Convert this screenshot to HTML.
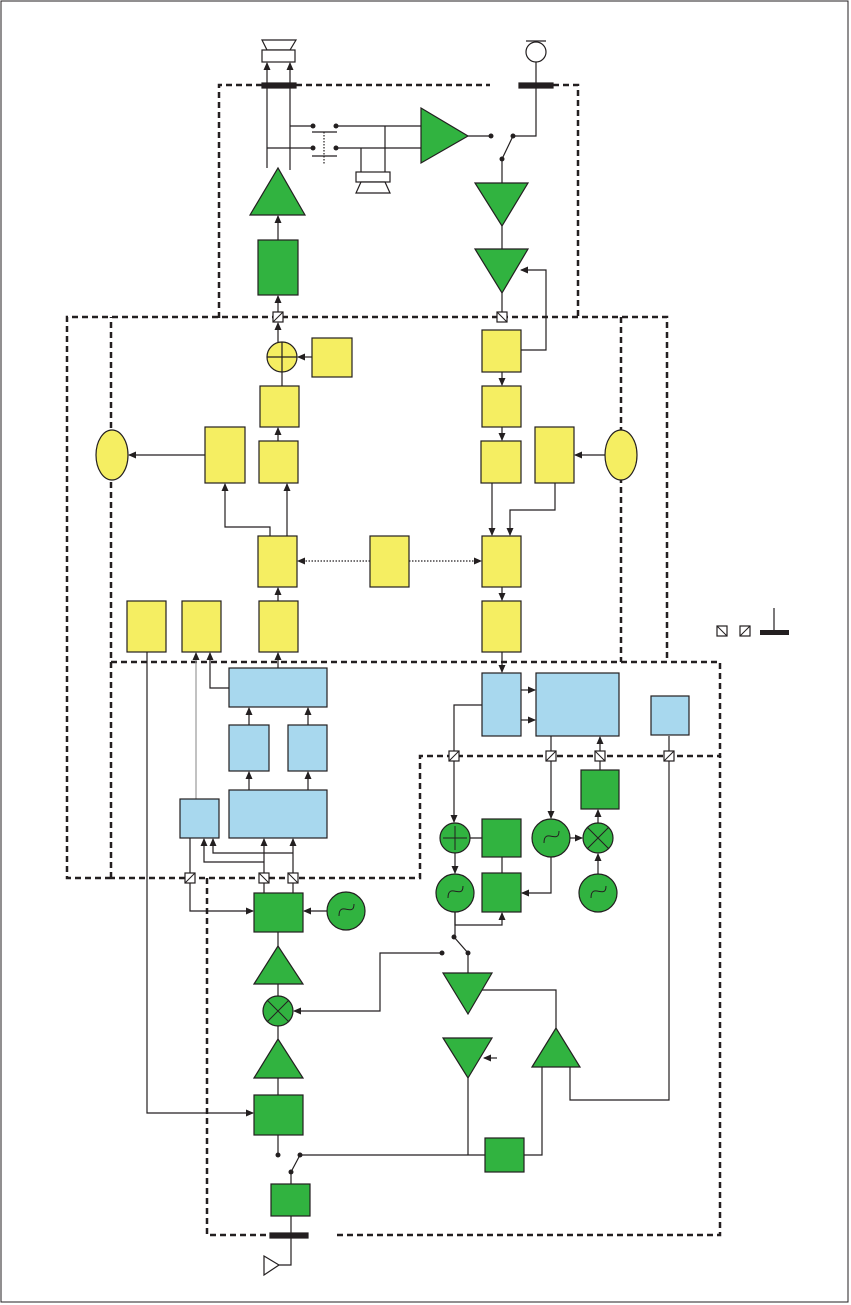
<!DOCTYPE html>
<html><head><meta charset="utf-8"><style>body{margin:0;background:#fff}svg{display:block}</style></head><body>
<svg width="851" height="1305" viewBox="0 0 851 1305" xmlns="http://www.w3.org/2000/svg">
<defs><marker id="a" markerWidth="8" markerHeight="8" refX="7" refY="4" orient="auto" markerUnits="userSpaceOnUse"><path d="M0,0.5 L8,4 L0,7.5 Z" fill="#231f20"/></marker></defs>
<rect x="1" y="1" width="847" height="1301" fill="#fff" stroke="#231f20" stroke-width="1"/>
<g fill="none" stroke="#231f20" stroke-width="2.5" stroke-dasharray="6,4">
<path d="M219,318 V85 H490"/><path d="M553,85 H578 V318"/>
<path d="M111,878 H67 V317 H667 V662"/>
<path d="M111,878 V317"/><path d="M621,317 V662"/>
<path d="M111,662 H720 V756 H420 V878 H111"/>
<path d="M207,878 V1235 H270"/><path d="M337,1235 H720 V756"/>
</g>
<g stroke="#231f20" stroke-width="1.2">
<path d="M262,40 H296 L290,50 H267 Z" fill="#fff"/><rect x="262" y="50" width="33" height="12" fill="#fff"/>
<rect x="262" y="83" width="34" height="5" fill="#231f20"/><rect x="519" y="83" width="34" height="5" fill="#231f20"/>
<rect x="270" y="1233" width="38" height="5" fill="#231f20"/>
<circle cx="536" cy="52" r="10" fill="#fff"/><line x1="526" y1="41" x2="546" y2="41"/>
<rect x="356" y="172" width="34" height="10" fill="#fff"/><path d="M361,182 H385 L390,193 H356 Z" fill="#fff"/>
<path d="M264,1256 L279,1265 L264,1275 Z" fill="#fff"/>
</g>
<g fill="none" stroke="#231f20" stroke-width="1.2">
<path d="M267,168 V63" marker-end="url(#a)"/><path d="M290,170 V63" marker-end="url(#a)"/>
<path d="M290,126 H313 M267,148 H313 M312,132 H337 M312,156 H337"/>
<path d="M324,132 V165" stroke-dasharray="1.5,1.5"/>
<path d="M336,126 H421 M336,148 H421 M385,126 V172 M361,148 V172"/>
<path d="M468,136 H491 M513,136 L502,159 M513,136 H536 V62 M502,159 V183 M502,226 V249 M502,293 V317"/>
<path d="M521,350 H546 V270 H521" marker-end="url(#a)"/>
<path d="M278,240 V216" marker-end="url(#a)"/><path d="M278,317 V296" marker-end="url(#a)"/>
<path d="M278,342 V323" marker-end="url(#a)"/><path d="M282,372 V386"/>
<path d="M312,357 H298" marker-end="url(#a)"/>
<path d="M278,441 V428" marker-end="url(#a)"/><path d="M205,455 H129" marker-end="url(#a)"/>
<path d="M287,536 V484" marker-end="url(#a)"/><path d="M270,536 V527 H225 V484" marker-end="url(#a)"/>
<path d="M278,601 V588" marker-end="url(#a)"/>
<path d="M370,561 H298" stroke-dasharray="1.5,1.5" marker-end="url(#a)"/>
<path d="M409,561 H481" stroke-dasharray="1.5,1.5" marker-end="url(#a)"/>
<path d="M502,372 V385" marker-end="url(#a)"/><path d="M502,427 V440" marker-end="url(#a)"/>
<path d="M492,483 V535" marker-end="url(#a)"/><path d="M555,483 V510 H510 V535" marker-end="url(#a)"/>
<path d="M605,455 H575" marker-end="url(#a)"/>
<path d="M502,587 V600" marker-end="url(#a)"/><path d="M502,652 V672" marker-end="url(#a)"/>
<path d="M278,668 V653" marker-end="url(#a)"/><path d="M229,688 H210 V653" marker-end="url(#a)"/>
<path d="M249,725 V708" marker-end="url(#a)"/><path d="M308,725 V708" marker-end="url(#a)"/>
<path d="M249,790 V772" marker-end="url(#a)"/><path d="M308,790 V772" marker-end="url(#a)"/>
<path d="M147,652 V1113 H253" marker-end="url(#a)"/>
<path d="M196,799 V653" stroke="#999" marker-end="url(#a)"/>
<path d="M190,838 V911 H253" marker-end="url(#a)"/>
<path d="M264,893 V839" marker-end="url(#a)"/><path d="M293,893 V839" marker-end="url(#a)"/>
<path d="M264,862 H204 V839" marker-end="url(#a)"/><path d="M293,853 H213 V839" marker-end="url(#a)"/>
<path d="M327,911 H304" marker-end="url(#a)"/>
<path d="M278,932 V946 M278,984 V996 M278,1026 V1039 M278,1078 V1095 M278,1135 V1155 M300,1155 L291,1172 V1184 M300,1155 H485 M291,1216 V1265 H279"/>
<path d="M482,705 H454 V822" marker-end="url(#a)"/><path d="M455,853 V873" marker-end="url(#a)"/>
<path d="M455,912 V925 H502 V913" marker-end="url(#a)"/>
<path d="M455,912 V936"/>
<path d="M454,937 L468,953 V973 M442,953 H380 V1011 H294" marker-end="url(#a)"/>
<path d="M482,990 H556 V1028 M468,1078 V1155 M524,1155 H542 V1067 M570,1067 V1100 H669 V736"/>
<path d="M497,1058 H484" marker-end="url(#a)"/>
<path d="M521,690 H535" marker-end="url(#a)"/><path d="M521,720 H535" marker-end="url(#a)"/>
<path d="M551,736 V818" marker-end="url(#a)"/><path d="M570,838 H582" marker-end="url(#a)"/>
<path d="M598,874 V854" marker-end="url(#a)"/><path d="M598,823 V810" marker-end="url(#a)"/>
<path d="M600,770 V737" marker-end="url(#a)"/>
<path d="M470,838 H482 M502,857 V873"/><path d="M551,857 V893 H522" marker-end="url(#a)"/>
<path d="M774,608 V630"/>
</g>
<g fill="#231f20">
<circle cx="313" cy="126" r="2.5"/><circle cx="336" cy="126" r="2.5"/><circle cx="313" cy="148" r="2.5"/><circle cx="336" cy="148" r="2.5"/>
<circle cx="491" cy="136" r="2.5"/><circle cx="513" cy="136" r="2.5"/><circle cx="502" cy="159" r="2.5"/>
<circle cx="278" cy="1155" r="2.5"/><circle cx="300" cy="1155" r="2.5"/><circle cx="291" cy="1172" r="2.5"/>
<circle cx="454" cy="937" r="2.5"/><circle cx="468" cy="953" r="2.5"/><circle cx="442" cy="953" r="2.5"/>
<rect x="760" y="630" width="29" height="5"/>
</g>
<g fill="#f5ee62" stroke="#231f20" stroke-width="1.2">
<circle cx="282" cy="357" r="15"/><rect x="312" y="338" width="40" height="39"/>
<rect x="260" y="386" width="39" height="41"/><rect x="205" y="427" width="40" height="56"/><rect x="259" y="441" width="39" height="42"/>
<ellipse cx="112" cy="455" rx="16" ry="25"/><rect x="258" y="536" width="39" height="51"/><rect x="370" y="536" width="39" height="51"/>
<rect x="127" y="601" width="39" height="51"/><rect x="182" y="601" width="39" height="51"/><rect x="259" y="601" width="39" height="51"/>
<rect x="482" y="330" width="39" height="42"/><rect x="482" y="386" width="39" height="41"/><rect x="481" y="441" width="40" height="42"/>
<rect x="535" y="427" width="39" height="56"/><ellipse cx="621" cy="455" rx="16" ry="25"/>
<rect x="482" y="536" width="39" height="51"/><rect x="482" y="601" width="39" height="51"/>
</g>
<path d="M267,357 H297 M282,342 V372" stroke="#231f20" stroke-width="1.2"/>
<g fill="#a8d8ee" stroke="#231f20" stroke-width="1.2">
<rect x="229" y="668" width="98" height="39"/><rect x="229" y="725" width="40" height="46"/><rect x="288" y="725" width="39" height="46"/>
<rect x="180" y="799" width="39" height="39"/><rect x="229" y="790" width="98" height="48"/>
<rect x="482" y="673" width="39" height="63"/><rect x="536" y="673" width="83" height="63"/><rect x="651" y="696" width="38" height="39"/>
</g>
<g fill="#31b340" stroke="#231f20" stroke-width="1.2">
<path d="M250,215 L278,168 L305,215 Z"/><rect x="258" y="240" width="40" height="55"/>
<path d="M421,108 L468,136 L421,163 Z"/>
<path d="M475,183 H528 L502,226 Z"/><path d="M475,249 H528 L502,293 Z"/>
<rect x="254" y="893" width="49" height="39"/><circle cx="346" cy="911" r="19"/>
<path d="M254,984 L278,946 L303,984 Z"/><circle cx="278" cy="1011" r="15"/>
<path d="M254,1078 L278,1039 L303,1078 Z"/><rect x="254" y="1095" width="49" height="40"/><rect x="271" y="1184" width="39" height="32"/>
<circle cx="455" cy="838" r="15"/><rect x="482" y="819" width="39" height="38"/><circle cx="551" cy="838" r="19"/>
<circle cx="598" cy="838" r="15"/><rect x="581" y="770" width="38" height="39"/>
<circle cx="455" cy="893" r="19"/><rect x="482" y="873" width="39" height="39"/><circle cx="598" cy="893" r="19"/>
<path d="M443,973 H492 L468,1014 Z"/><path d="M443,1038 H492 L468,1078 Z"/>
<path d="M532,1067 L556,1028 L580,1067 Z"/><rect x="485" y="1138" width="39" height="34"/>
</g>
<g fill="none" stroke="#231f20" stroke-width="1">
<path d="M267,1000 L289,1022 M289,1000 L267,1022"/><path d="M587,827 L609,849 M609,827 L587,849"/>
<path d="M443,838 H467 M455,826 V850"/>
<path d="M339,916 C339,900 354,918 354,904"/><path d="M544,843 C544,827 559,845 559,831"/>
<path d="M448,898 C448,882 463,900 463,886"/><path d="M591,898 C591,882 606,900 606,886"/>
</g>
<g fill="#fff" stroke="#231f20" stroke-width="1.2">
<rect x="273" y="312" width="10" height="10"/><rect x="497" y="312" width="10" height="10"/>
<rect x="185" y="873" width="10" height="10"/><rect x="259" y="873" width="10" height="10"/><rect x="288" y="873" width="10" height="10"/>
<rect x="449" y="751" width="10" height="10"/><rect x="546" y="751" width="10" height="10"/><rect x="595" y="751" width="10" height="10"/><rect x="664" y="751" width="10" height="10"/>
<rect x="717" y="626" width="10" height="10"/><rect x="740" y="626" width="10" height="10"/>
</g>
<g stroke="#231f20" stroke-width="1">
<path d="M273,322 L283,312 M497,312 L507,322 M185,883 L195,873 M259,873 L269,883 M288,873 L298,883 M449,761 L459,751 M546,761 L556,751 M595,751 L605,761 M664,761 L674,751 M717,626 L727,636 M740,636 L750,626"/>
</g>
</svg>
</body></html>
